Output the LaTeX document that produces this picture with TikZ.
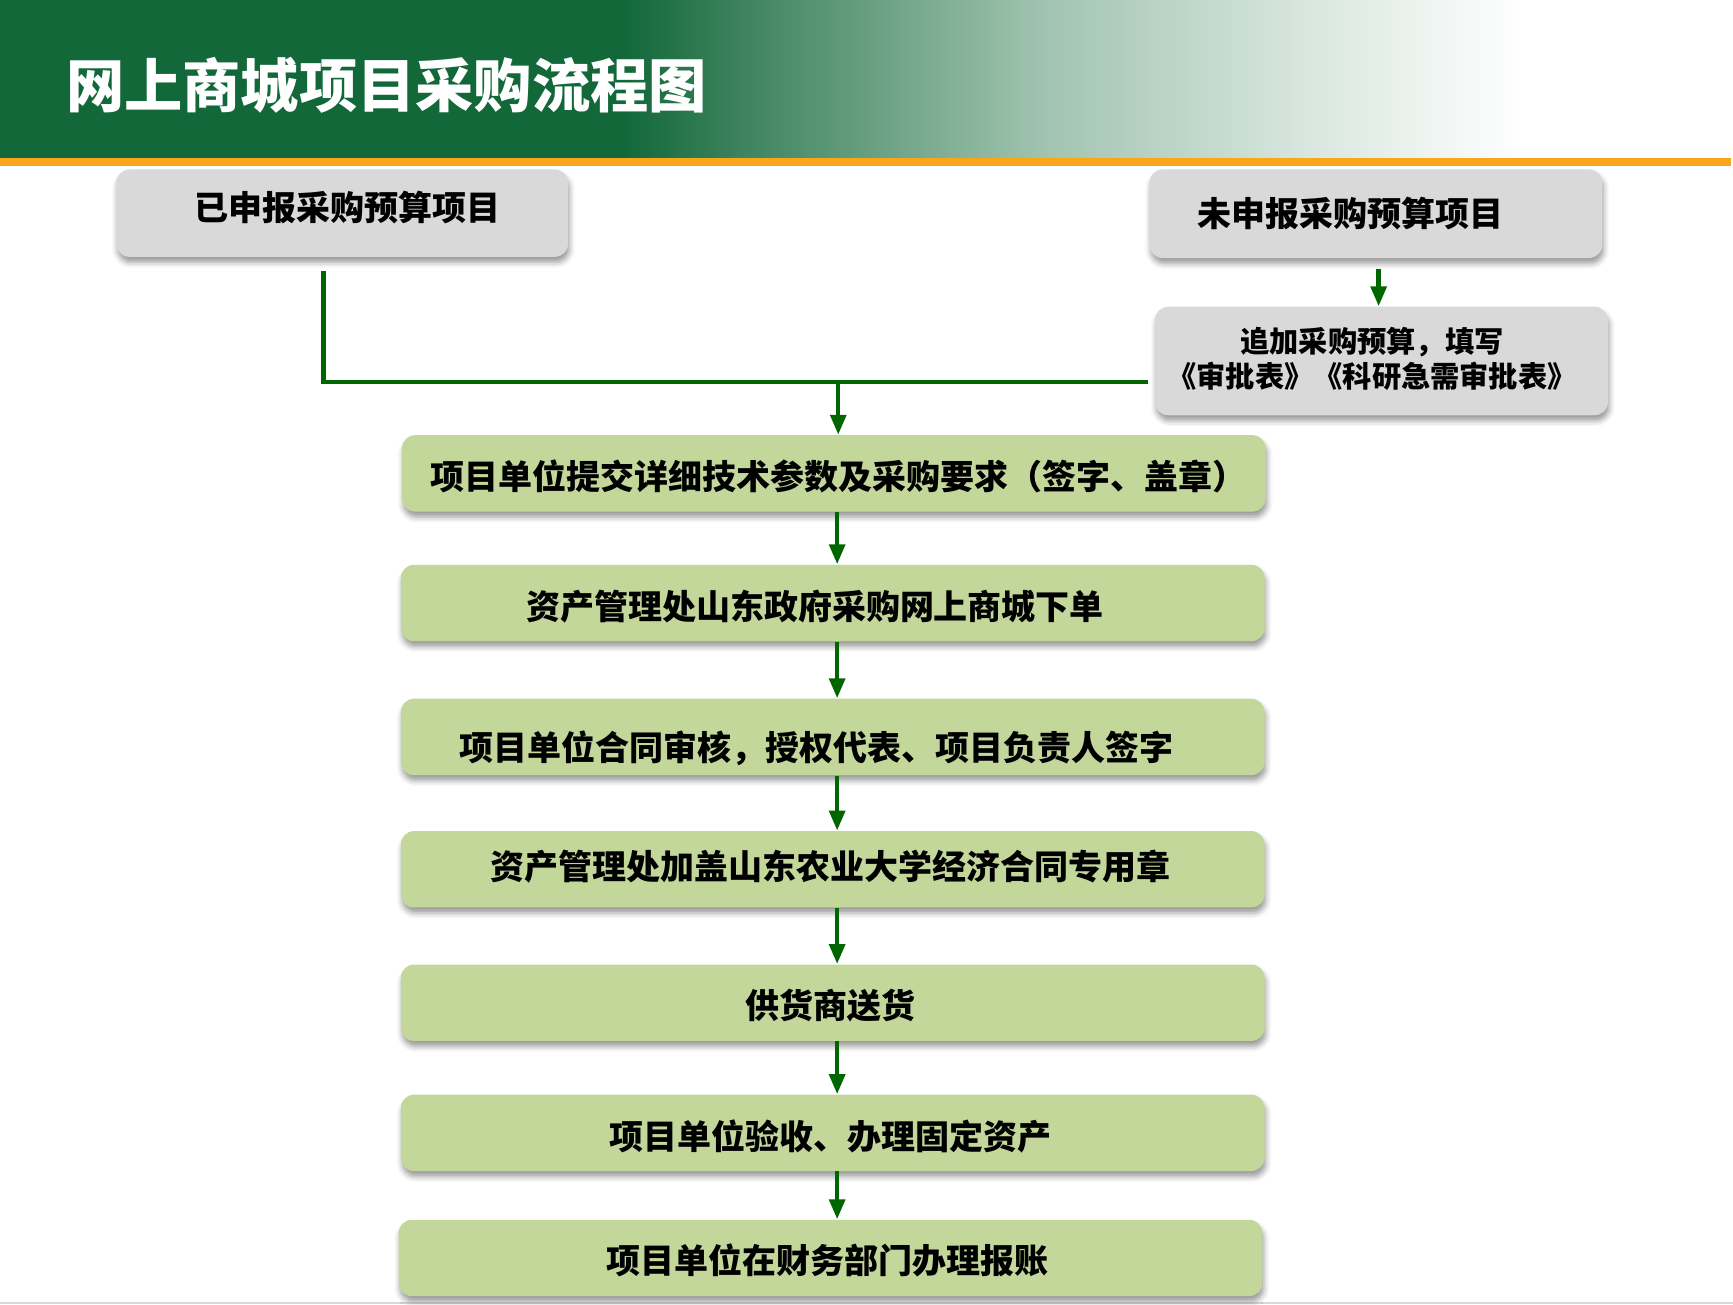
\documentclass[tikz,border=0pt]{standalone}
\usepackage{fontspec}
\setmainfont{Noto Sans CJK SC}
\usetikzlibrary{arrows.meta,shadows.blur}
\definecolor{hg}{RGB}{19,104,58}
\definecolor{hm1}{RGB}{75,140,105}
\definecolor{hm2}{RGB}{160,195,175}
\definecolor{hm3}{RGB}{215,230,222}
\definecolor{orangeline}{RGB}{249,166,26}
\definecolor{graybox}{RGB}{217,217,217}
\definecolor{greenbox}{RGB}{196,215,155}
\definecolor{arrowgreen}{RGB}{0,102,0}
\pgfdeclarehorizontalshading{hdr}{100bp}{color(0bp)=(hg); color(25bp)=(hg); color(43bp)=(hg); color(47.5bp)=(hm1); color(55bp)=(hm2); color(62.5bp)=(hm3); color(69bp)=(white); color(75bp)=(white); color(100bp)=(white)}
\tikzset{
  box/.style={rounded corners=6pt, inner sep=0pt,
    blur shadow={shadow xshift=0.6pt, shadow yshift=-2.5pt, shadow blur radius=2.5pt, shadow opacity=40}},
  graystep/.style={box, fill=graybox},
  greenstep/.style={box, fill=greenbox, minimum width=390pt, minimum height=34.5pt},
  txt/.style={font=\bfseries\fontsize{15.35pt}{18pt}\selectfont, text=black, inner sep=0pt},
  conn/.style={draw=arrowgreen, line width=2pt},
  arr/.style={conn, -{Triangle[width=7pt,length=9pt]}},
}
\begin{document}
\begin{tikzpicture}[x=0.5pt,y=-0.5pt]
\useasboundingbox (0,0) rectangle (1565,1177.6);
% header
\shade[shading=hdr] (0,0) rectangle (1565,144);
\fill[orangeline] (0,143) rectangle (1563,150);
\node[font=\bfseries\fontsize{26.3pt}{30pt}\selectfont, text=white, inner sep=0pt] (title) at (349,77) {网上商城项目采购流程图};
% bottom line
\fill[black!15] (0,1175.6) rectangle (1565,1177.6);
% top gray boxes
\node[graystep, minimum width=204pt, minimum height=39.5pt] (b1) at (309,192.5) {};
\node[graystep, minimum width=204.5pt, minimum height=40pt] (b2) at (1242.5,193) {};
\node[graystep, minimum width=204.5pt, minimum height=49pt] (b3) at (1247.5,326) {};
\node[txt] (t1) at (314,187) {已申报采购预算项目};
\node[txt] (t2) at (1220,193) {未申报采购预算项目};
\node[txt, font=\bfseries\fontsize{13.2pt}{16pt}\selectfont, align=center] (t3) at (1239,324) {追加采购预算，填写\\《审批表》《科研急需审批表》};
% green boxes
\node[greenstep] (b4) at (753,427.5) {};
\node[greenstep] (b5) at (752,544.5) {};
\node[greenstep] (b6) at (752,665.5) {};
\node[greenstep] (b7) at (752,785) {};
\node[greenstep] (b8) at (752,905.5) {};
\node[greenstep] (b9) at (752,1023) {};
\node[greenstep] (b10) at (750,1136) {};
\node[txt] (t4) at (757,430) {项目单位提交详细技术参数及采购要求（签字、盖章）};
\node[txt] (t5) at (736,548) {资产管理处山东政府采购网上商城下单};
\node[txt] (t6) at (737,676) {项目单位合同审核，授权代表、项目负责人签字};
\node[txt] (t7) at (750,783) {资产管理处加盖山东农业大学经济合同专用章};
\node[txt] (t8) at (750,908) {供货商送货};
\node[txt] (t9) at (750,1026) {项目单位验收、办理固定资产};
\node[txt] (t10) at (747,1138) {项目单位在财务部门办理报账};
% connectors
\coordinate (s1) at (292,245);
\coordinate (e1) at (1037,345);
\coordinate (j1) at (757,345);
\coordinate (s2) at (1245,243);
\coordinate (ax) at (756,0);
\draw[conn] (s1) |- (e1);
\draw[arr] (j1) -- (j1 |- b4.north);
\draw[arr] (s2) -- (s2 |- b3.north);
\draw[arr] (b4.south -| ax) -- (b5.north -| ax);
\draw[arr] (b5.south -| ax) -- (b6.north -| ax);
\draw[arr] (b6.south -| ax) -- (b7.north -| ax);
\draw[arr] (b7.south -| ax) -- (b8.north -| ax);
\draw[arr] (b8.south -| ax) -- (b9.north -| ax);
\draw[arr] (b9.south -| ax) -- (b10.north -| ax);
\end{tikzpicture}
\end{document}
